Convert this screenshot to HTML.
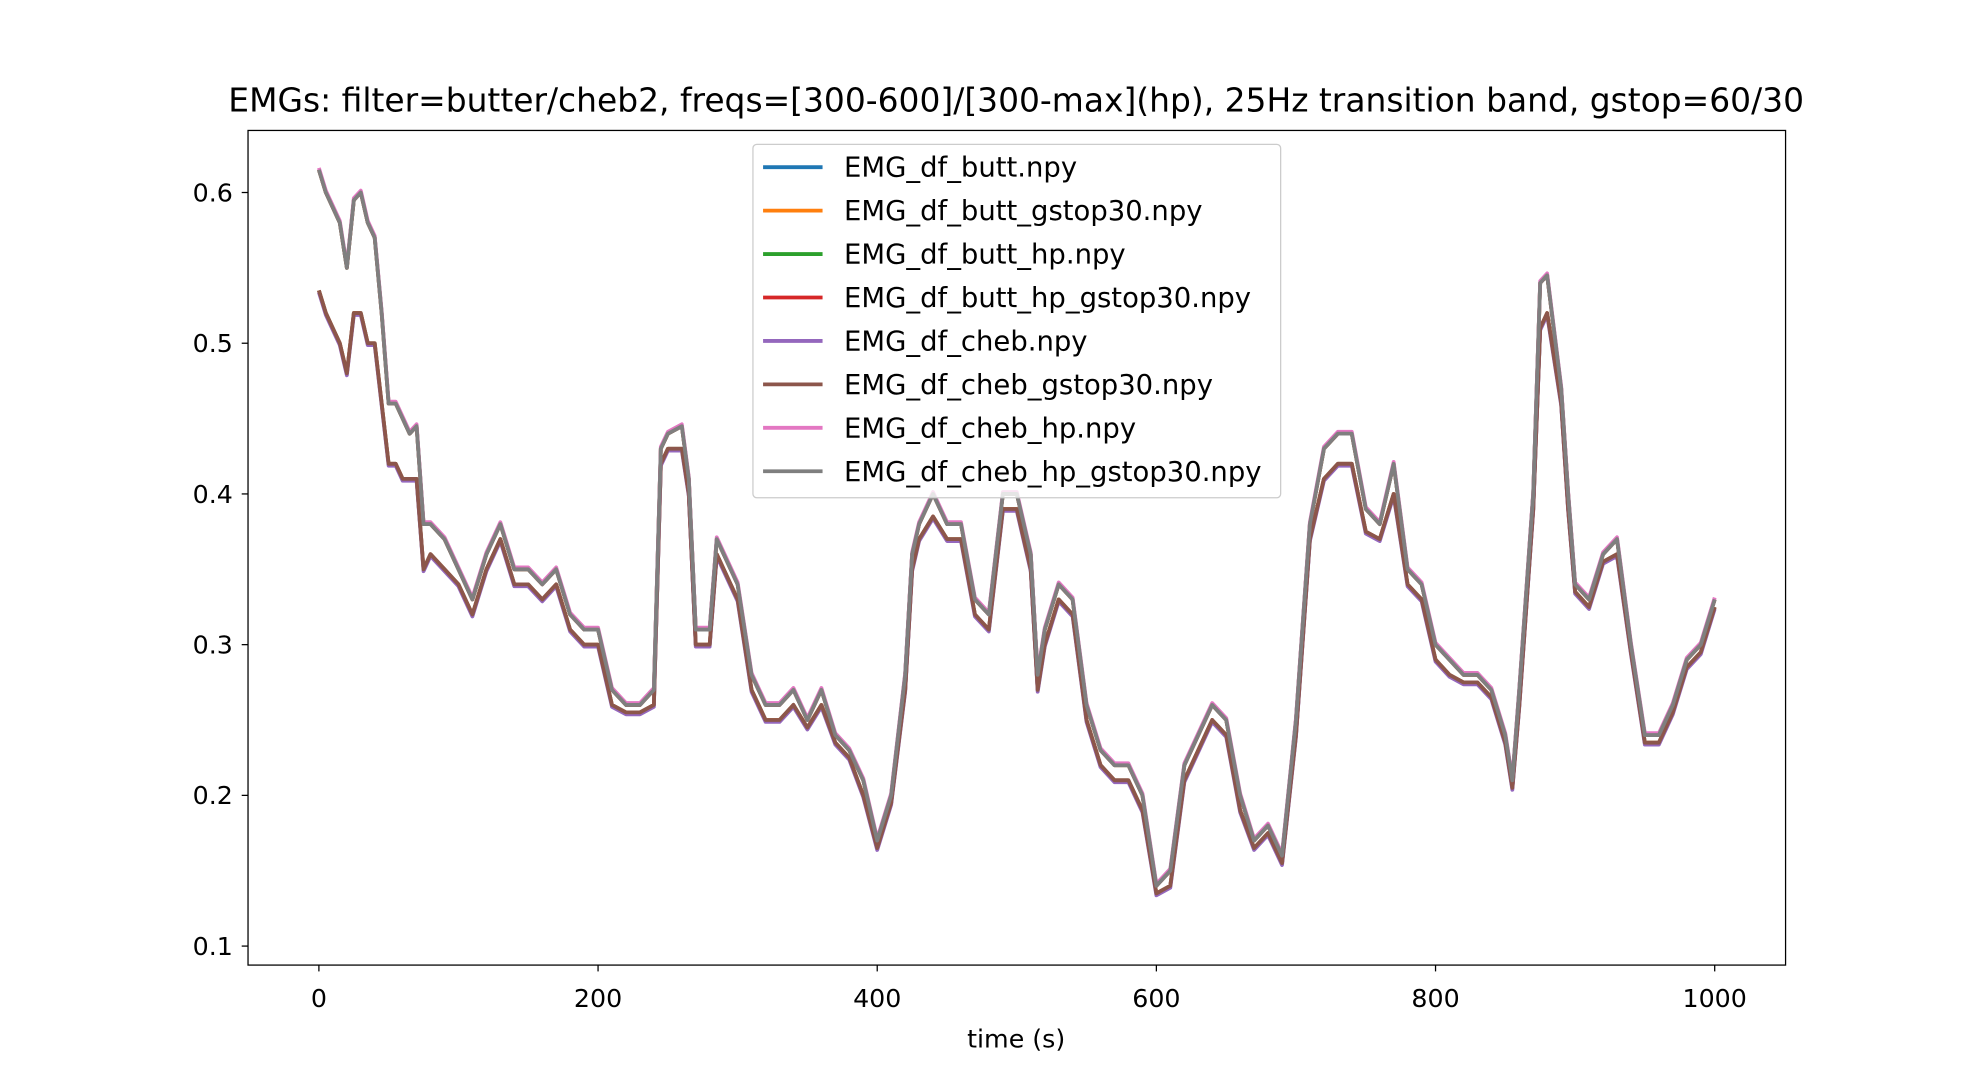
<!DOCTYPE html>
<html><head><meta charset="utf-8"><style>
html,body{margin:0;padding:0;background:#fff;}
svg{display:block;}
text{font-family:"DejaVu Sans","Liberation Sans",sans-serif;fill:#000;}
</style></head><body>
<svg id="chart" width="1964" height="1074" viewBox="0 0 1552 848" preserveAspectRatio="none" xmlns="http://www.w3.org/2000/svg">
<rect x="0" y="0" width="1552" height="848" fill="#fff"/>
<text x="803" y="88" font-size="26" text-anchor="middle">EMGs: filter=butter/cheb2, freqs=[300-600]/[300-max](hp), 25Hz transition band, gstop=60/30</text>
<g id="plot"></g>
<g id="axes"></g>
<text x="803" y="827" font-size="20" text-anchor="middle">time (s)</text>
<g id="legend"></g>
</svg>
<script>
const times = [0,5,10,15,20,25,30,35,40,45,50,55,60,65,70,75,80,90,100,110,120,130,140,150,160,170,180,190,200,210,220,230,240,245,250,260,265,270,280,285,290,300,310,320,330,340,350,360,370,380,390,400,410,420,425,430,440,450,460,470,480,490,500,510,515,520,530,540,550,560,570,580,590,600,610,620,630,640,650,660,670,680,690,700,710,720,730,740,750,760,770,780,790,800,810,820,830,840,850,855,860,870,875,880,890,895,900,910,920,930,940,950,960,970,980,990,1000];
const hpValues = [0.615,0.60,0.59,0.58,0.55,0.595,0.60,0.58,0.57,0.52,0.46,0.46,0.45,0.44,0.445,0.38,0.38,0.37,0.35,0.33,0.36,0.38,0.35,0.35,0.34,0.35,0.32,0.31,0.31,0.27,0.26,0.26,0.27,0.43,0.44,0.445,0.41,0.31,0.31,0.37,0.36,0.34,0.28,0.26,0.26,0.27,0.25,0.27,0.24,0.23,0.21,0.17,0.20,0.28,0.36,0.38,0.40,0.38,0.38,0.33,0.32,0.40,0.40,0.36,0.28,0.31,0.34,0.33,0.26,0.23,0.22,0.22,0.20,0.14,0.15,0.22,0.24,0.26,0.25,0.20,0.17,0.18,0.16,0.25,0.38,0.43,0.44,0.44,0.39,0.38,0.42,0.35,0.34,0.30,0.29,0.28,0.28,0.27,0.24,0.21,0.27,0.40,0.54,0.545,0.47,0.40,0.34,0.33,0.36,0.37,0.30,0.24,0.24,0.26,0.29,0.30,0.33];
const lpValues = [0.535,0.52,0.51,0.50,0.48,0.52,0.52,0.50,0.50,0.46,0.42,0.42,0.41,0.41,0.41,0.35,0.36,0.35,0.34,0.32,0.35,0.37,0.34,0.34,0.33,0.34,0.31,0.30,0.30,0.26,0.255,0.255,0.26,0.42,0.43,0.43,0.40,0.30,0.30,0.36,0.35,0.33,0.27,0.25,0.25,0.26,0.245,0.26,0.235,0.225,0.20,0.165,0.195,0.27,0.35,0.37,0.385,0.37,0.37,0.32,0.31,0.39,0.39,0.35,0.27,0.30,0.33,0.32,0.25,0.22,0.21,0.21,0.19,0.135,0.14,0.21,0.23,0.25,0.24,0.19,0.165,0.175,0.155,0.24,0.37,0.41,0.42,0.42,0.375,0.37,0.40,0.34,0.33,0.29,0.28,0.275,0.275,0.265,0.235,0.205,0.26,0.39,0.51,0.52,0.46,0.39,0.335,0.325,0.355,0.36,0.295,0.235,0.235,0.255,0.285,0.295,0.325];
const seriesNames = ["EMG_df_butt.npy","EMG_df_butt_gstop30.npy","EMG_df_butt_hp.npy","EMG_df_butt_hp_gstop30.npy","EMG_df_cheb.npy","EMG_df_cheb_gstop30.npy","EMG_df_cheb_hp.npy","EMG_df_cheb_hp_gstop30.npy"];
const seriesColors = ["#1f77b4","#ff7f0e","#2ca02c","#d62728","#9467bd","#8c564b","#e377c2","#7f7f7f"];
const seriesData = [lpValues,lpValues,hpValues,hpValues,lpValues,lpValues,hpValues,hpValues];
const xTicks = [0,200,400,600,800,1000];
const yTicks = [0.1,0.2,0.3,0.4,0.5,0.6];

const NS="http://www.w3.org/2000/svg";
const L=196,R=1411,T=103,B=762;
const xs=t=>252+(t-0)*(1355-252)/1000;
const ys=v=>747-(v-0.1)*(747-152)/0.5;
function mk(tag,attrs,parent){const e=document.createElementNS(NS,tag);for(const k in attrs)e.setAttribute(k,attrs[k]);parent.appendChild(e);return e;}
const plot=document.getElementById('plot'),axes=document.getElementById('axes'),legend=document.getElementById('legend');
const offs=[0,0,0,0,1.5,0,-1.5,0];
seriesData.forEach((vals,i)=>{
  const d=vals.map((v,j)=>(j?'L':'M')+xs(times[j]).toFixed(1)+','+(ys(v)+offs[i]).toFixed(1)).join(' ');
  const p=mk('path',{d:d,fill:'none',stroke:seriesColors[i],'stroke-width':3,'stroke-linejoin':'round'},plot);
  
  
});
const frame=mk('rect',{x:L,y:T,width:R-L,height:B-T,fill:'none',stroke:'#000','stroke-width':1},axes);


xTicks.forEach(t=>{
  const x=xs(t);
  const tk=mk('line',{x1:x,x2:x,y1:B,y2:B+5,stroke:'#000','stroke-width':1},axes);
  
  
  const lb=mk('text',{x:x,y:B+33,'font-size':20,'text-anchor':'middle'},axes);
  lb.textContent=t;
  
  
});
yTicks.forEach(v=>{
  const y=ys(v);
  const tk=mk('line',{x1:L-5,x2:L,y1:y,y2:y,stroke:'#000','stroke-width':1},axes);
  
  
  const lb=mk('text',{x:L-12,y:y+7,'font-size':20,'text-anchor':'end'},axes);
  lb.textContent=v.toFixed(1);
  
  
});
const box=mk('rect',{x:595,y:114,width:417,height:279,rx:3,fill:'#fff','fill-opacity':0.8,stroke:'#ccc','stroke-width':1},legend);


seriesNames.forEach((n,i)=>{
  const y=132+i*34.3;
  const ln=mk('line',{x1:603,x2:650,y1:y,y2:y,stroke:seriesColors[i],'stroke-width':3},legend);
  
  
  const tx=mk('text',{x:667,y:y+7.5,'font-size':21.7},legend);
  tx.textContent=n;
  
  
});
</script>
</body></html>
